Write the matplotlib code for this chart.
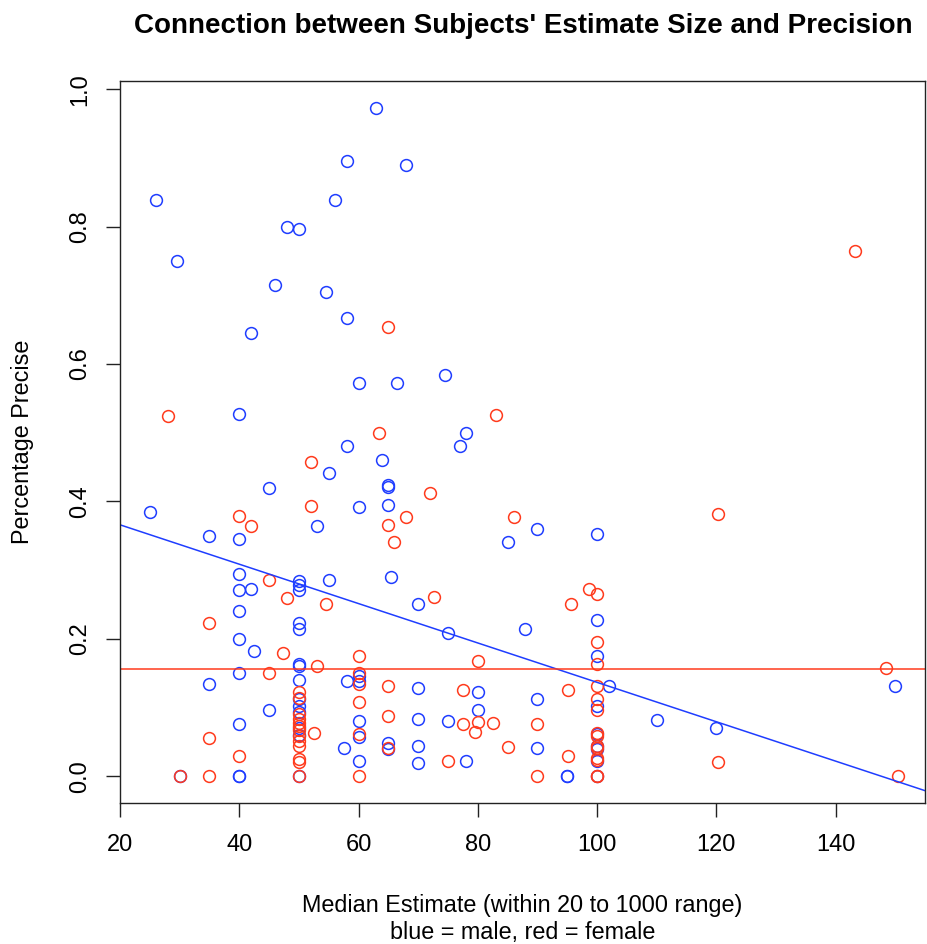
import matplotlib
matplotlib.use("Agg")
import matplotlib.pyplot as plt
import numpy as np

plt.rcParams['font.family'] = ['Liberation Sans', 'DejaVu Sans']

# ---- data ----
male_x = [63, 58, 68, 26, 56, 48, 50, 29.5, 46, 54.5, 58, 42, 74.5, 60, 66.5, 40, 78, 77, 58, 64,
          55, 65, 65, 45, 65, 60, 25, 53, 90, 100, 35, 40, 85,
          40, 65.5, 55, 50, 50, 42, 40, 50, 70, 40, 100, 50, 50, 88, 75, 40, 42.5, 100, 50, 50,
          40, 60, 50, 58, 60, 35, 102, 150, 70, 80, 90, 50, 50, 100, 45, 80, 50, 70, 110, 60,
          75, 40, 50, 120, 50, 100, 60, 65, 70, 57.5, 90, 65, 100, 100, 60, 78, 100, 70,
          30, 40, 40, 50, 95, 95, 100]
male_y = [0.973, 0.895, 0.889, 0.838, 0.838, 0.800, 0.797, 0.750, 0.715, 0.705, 0.667, 0.645,
          0.584, 0.572, 0.572, 0.527, 0.500, 0.481, 0.480, 0.461, 0.441, 0.424, 0.421, 0.420,
          0.395, 0.392, 0.385, 0.364, 0.360, 0.352, 0.350, 0.345, 0.341,
          0.295, 0.290, 0.286, 0.284, 0.278, 0.273, 0.271, 0.271, 0.251, 0.240, 0.228, 0.223,
          0.215, 0.214, 0.208, 0.200, 0.183, 0.175, 0.163, 0.161, 0.151, 0.146, 0.140, 0.139,
          0.139, 0.134, 0.131, 0.132, 0.129, 0.123, 0.112, 0.112, 0.102, 0.102, 0.097, 0.097,
          0.093, 0.084, 0.082, 0.080, 0.080, 0.076, 0.070, 0.070, 0.060, 0.061, 0.057, 0.048,
          0.044, 0.041, 0.041, 0.039, 0.039, 0.044, 0.022, 0.022, 0.022, 0.019,
          0.0, 0.0, 0.0, 0.0, 0.0, 0.0, 0.0]

female_x = [143.2, 65, 28, 83, 63.5, 52, 72, 52, 120.3, 40, 68, 86, 42, 65, 66,
            45, 98.7, 72.6, 48, 100, 54.5, 95.7, 35, 100, 47.4, 60, 80, 53, 100, 148.4, 45, 60,
            60, 65, 100, 77.6, 95.2, 50, 50, 100, 60, 100, 50, 65, 50, 80, 50, 82.6, 77.6, 90,
            50, 50, 79.6, 52.5, 100, 60, 50, 100, 35, 50, 50, 100, 85, 65, 100, 40, 95.2, 50,
            100, 100, 50, 75, 120.3, 30, 35, 50, 60, 90, 100, 100, 150.4]
female_y = [0.765, 0.654, 0.524, 0.526, 0.500, 0.457, 0.412, 0.394, 0.381, 0.379, 0.378, 0.378,
            0.364, 0.366, 0.341,
            0.286, 0.272, 0.261, 0.260, 0.265, 0.251, 0.251, 0.223, 0.196, 0.179, 0.175, 0.168,
            0.161, 0.164, 0.157, 0.151, 0.151, 0.134, 0.131, 0.132, 0.125, 0.125, 0.122, 0.114,
            0.113, 0.108, 0.097, 0.090, 0.088, 0.083, 0.079, 0.078, 0.077, 0.076, 0.076, 0.073,
            0.068, 0.065, 0.0635, 0.0625, 0.061, 0.059, 0.059, 0.056, 0.051, 0.044, 0.044, 0.043,
            0.041, 0.041, 0.030, 0.030, 0.025, 0.026, 0.023, 0.021, 0.022, 0.021,
            0.0, 0.0, 0.0, 0.0, 0.0, 0.0, 0.0, 0.0]

# fitted lines
male_intercept, male_slope = 0.4233, -0.002866
female_intercept, female_slope = 0.1555, 0.0

x_ticks = [20, 40, 60, 80, 100, 120, 140]
y_ticks = [0.0, 0.2, 0.4, 0.6, 0.8, 1.0]

BLUE = '#1f3dff'
RED = '#ff3a1c'

W, H = 927, 944
fig = plt.figure(figsize=(W / 100, H / 100), dpi=100)
ax = fig.add_axes([120 / W, (H - 803) / H, (925 - 120) / W, (803 - 81) / H])

ax.plot(male_x, male_y, 'o', mfc='none', mec=BLUE, ms=8.5, mew=1.1, ls='none')
ax.plot(female_x, female_y, 'o', mfc='none', mec=RED, ms=8.5, mew=1.1, ls='none')

ax.set_xlim(20, 155)
ax.set_ylim(-0.0389, 1.0119)
xx = np.array(ax.get_xlim())
ax.plot(xx, male_intercept + male_slope * xx, color=BLUE, lw=1.1)
ax.plot(xx, female_intercept + female_slope * xx, color=RED, lw=1.1)
ax.set_xlim(20, 155)

ax.set_xticks(x_ticks)
ax.set_xticklabels([str(v) for v in x_ticks])
ax.set_yticks(y_ticks)
ax.set_yticklabels([f"{v:.1f}" for v in y_ticks], rotation=90, va='center')
ax.tick_params(axis='both', direction='out', length=10, width=1.0, labelsize=17, color='#222222')
ax.tick_params(axis='x', pad=12)
ax.tick_params(axis='y', pad=11)
for s in ax.spines.values():
    s.set_linewidth(1.0)
    s.set_color('#222222')

ax.set_xlabel("Median Estimate (within 20 to 1000 range)\nblue = male, red = female",
              fontsize=16.8, linespacing=1.2, labelpad=28)
ax.set_ylabel("Percentage Precise", fontsize=16.8, labelpad=25)
fig.text(523 / W, 1 - 26 / H, "Connection between Subjects' Estimate Size and Precision",
         ha='center', va='center', fontsize=20, fontweight='bold')

fig.savefig("out.png", dpi=100)
